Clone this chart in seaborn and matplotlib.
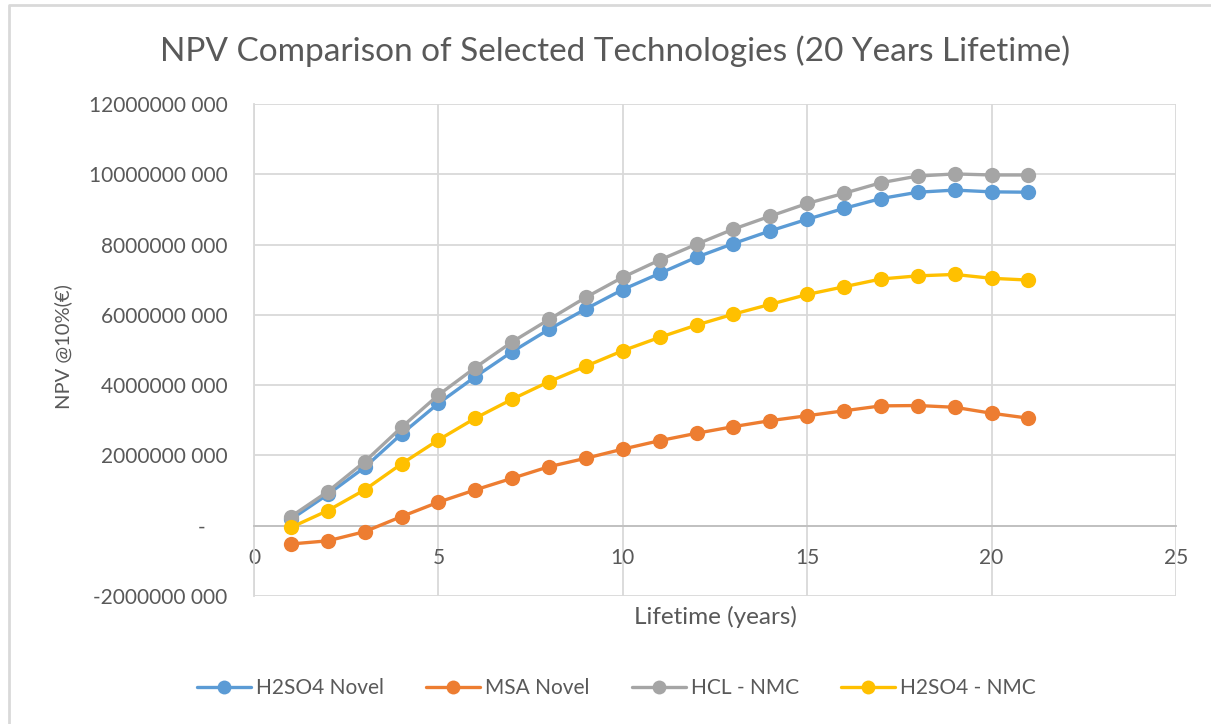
import matplotlib
matplotlib.use("Agg")
import matplotlib.pyplot as plt
import seaborn as sns
import pandas as pd
from matplotlib.ticker import FuncFormatter, MultipleLocator
from matplotlib.lines import Line2D

# ---- data ----
years = list(range(1, 22))
h2so4_novel = [0.18, 0.89, 1.66, 2.61, 3.48, 4.24, 4.95, 5.59, 6.17, 6.72, 7.18,
               7.64, 8.03, 8.39, 8.72, 9.03, 9.31, 9.49, 9.55, 9.50, 9.49]
msa_novel = [-0.52, -0.43, -0.17, 0.26, 0.67, 1.02, 1.35, 1.68, 1.92, 2.18, 2.42,
             2.63, 2.82, 2.99, 3.13, 3.27, 3.41, 3.42, 3.37, 3.20, 3.06]
hcl_nmc = [0.26, 0.97, 1.82, 2.80, 3.72, 4.50, 5.23, 5.87, 6.50, 7.07, 7.56,
           8.01, 8.44, 8.81, 9.17, 9.46, 9.76, 9.95, 10.01, 9.98, 9.98]
h2so4_nmc = [-0.05, 0.43, 1.02, 1.76, 2.44, 3.06, 3.60, 4.10, 4.54, 4.98, 5.36,
             5.71, 6.02, 6.30, 6.58, 6.80, 7.02, 7.11, 7.15, 7.04, 6.99]
series_names = ["H2SO4 Novel", "MSA Novel", "HCL - NMC", "H2SO4 - NMC"]
colors = ["#5B9BD5", "#ED7D31", "#A5A5A5", "#FFC000"]

title = "NPV Comparison of Selected Technologies (20 Years Lifetime)"
xlabel = "Lifetime (years)"
ylabel = "NPV @10%(€)"

rows = []
for name, vals in zip(series_names, [h2so4_novel, msa_novel, hcl_nmc, h2so4_nmc]):
    for x, v in zip(years, vals):
        rows.append({"Lifetime": x, "NPV": v * 1e9, "Series": name})
df = pd.DataFrame(rows)

sns.set_theme(style="white")
plt.rcParams["font.family"] = ["Lato", "DejaVu Sans"]

txt = "#595959"
fig = plt.figure(figsize=(12.11, 7.24), dpi=100)
ax = fig.add_axes([254 / 1211, 1 - 596 / 724, (1176 - 254) / 1211, (596 - 104) / 724])

sns.lineplot(data=df, x="Lifetime", y="NPV", hue="Series", hue_order=series_names,
             palette=colors, marker="o", markersize=11, markeredgewidth=0,
             linewidth=2.4, ax=ax, legend=False, zorder=3)

ax.set_xlim(0, 25)
ax.set_ylim(-2e9, 12e9)
ax.xaxis.set_major_locator(MultipleLocator(5))
ax.yaxis.set_major_locator(MultipleLocator(2e9))


def yfmt(v, pos):
    if abs(v) < 1:
        return "-    "
    return f"{int(round(v / 1000))} 000"


ax.yaxis.set_major_formatter(FuncFormatter(yfmt))
ax.grid(True, color="#D9D9D9", linewidth=1.3)
ax.set_axisbelow(True)
for s in ["top", "right"]:
    ax.spines[s].set_visible(False)
ax.spines["bottom"].set_position(("data", 0))
ax.spines["bottom"].set_color("#BFBFBF")
ax.spines["bottom"].set_linewidth(1.3)
ax.spines["left"].set_color("#D9D9D9")
ax.spines["left"].set_linewidth(1.3)
ax.tick_params(axis="x", length=0, pad=16, labelsize=15, labelcolor=txt)
ax.tick_params(axis="y", length=0, pad=19, labelsize=15, labelcolor=txt)

ax.set_xlabel(xlabel, fontsize=17.5, color=txt)
ax.xaxis.set_label_coords(0.5, -0.02)
ax.set_ylabel(ylabel, fontsize=14.5, color=txt)
ax.yaxis.set_label_coords(-0.197, 0.508)

fig.text(0.508, 1 - 51 / 724, title, ha="center", va="center", fontsize=24, color=txt)

handles = [Line2D([0], [0], color=c, linewidth=2.4, marker="o", markersize=10,
                  markeredgewidth=0) for c in colors]
fig.legend(handles, series_names, loc="center", bbox_to_anchor=(0.509, 1 - 688 / 724),
           ncol=4, frameon=False, fontsize=15, labelcolor=txt, handlelength=2.6,
           columnspacing=2.0, handletextpad=0.25)

# outer chart-area border (top and left visible)
fig.add_artist(Line2D([9 / 1211, 9 / 1211, 1.0], [0, 1 - 5 / 724, 1 - 5 / 724],
                      transform=fig.transFigure, color="#D9D9D9", linewidth=2))

fig.savefig("out.png", dpi=100, facecolor="white")
